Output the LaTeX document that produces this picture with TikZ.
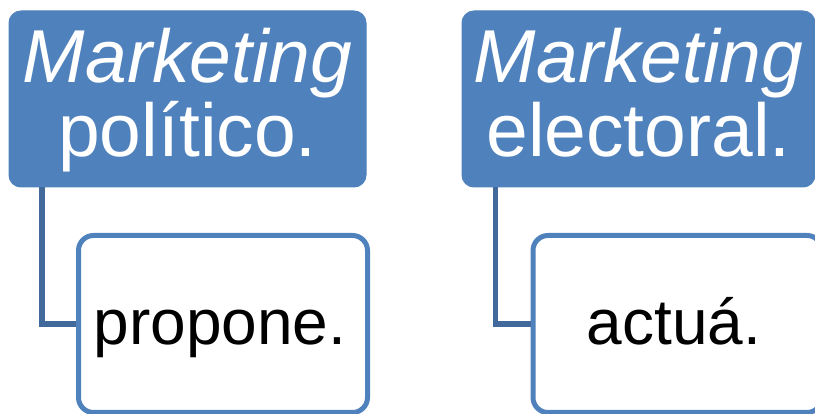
\documentclass[tikz,border=0pt]{standalone}
\usepackage{fontspec}
\setmainfont{Liberation Sans}
\usetikzlibrary{calc}
\definecolor{accent}{HTML}{4F81BD}
\definecolor{linkblue}{HTML}{41699C}
\begin{document}
\begin{tikzpicture}[x=1pt,y=-1pt,
  parentbox/.style={rectangle, rounded corners=12pt, fill=accent, draw=accent,
    line width=1pt, minimum height=176pt, inner sep=0pt, text=white,
    align=center, font=\fontsize{75}{74}\selectfont,
    text height=129pt, text depth=13pt},
  childbox/.style={rectangle, rounded corners=15pt, fill=white, draw=accent,
    line width=5pt, minimum width=289pt, minimum height=177pt, inner sep=0pt},
  childtext/.style={anchor=base, inner sep=0pt, font=\fontsize{64}{64}\selectfont},
  link/.style={draw=linkblue, line width=5.5pt, line join=miter}]
\useasboundingbox (0,0) rectangle (815,414);

% top-level boxes
\node[parentbox, minimum width=357pt] (p1) at (187.5,99) {\textit{Marketing}\\político.};
\node[parentbox, minimum width=353pt] (p2) at (638.5,99) {\textit{Marketing}\\electoral.};

% sub-boxes
\node[childbox] (c1) at (223,324) {};
\node[childbox] (c2) at (677.5,324) {};
\node[childtext] (t1) at (220,345) {propone.};
\node[childtext] (t2) at (674,345) {actuá.};

% elbow connectors
\draw[link] ($(p1.south west)+(33.5,0)$) |- (c1.west);
\draw[link] ($(p2.south west)+(34,0)$) |- (c2.west);
\end{tikzpicture}
\end{document}
